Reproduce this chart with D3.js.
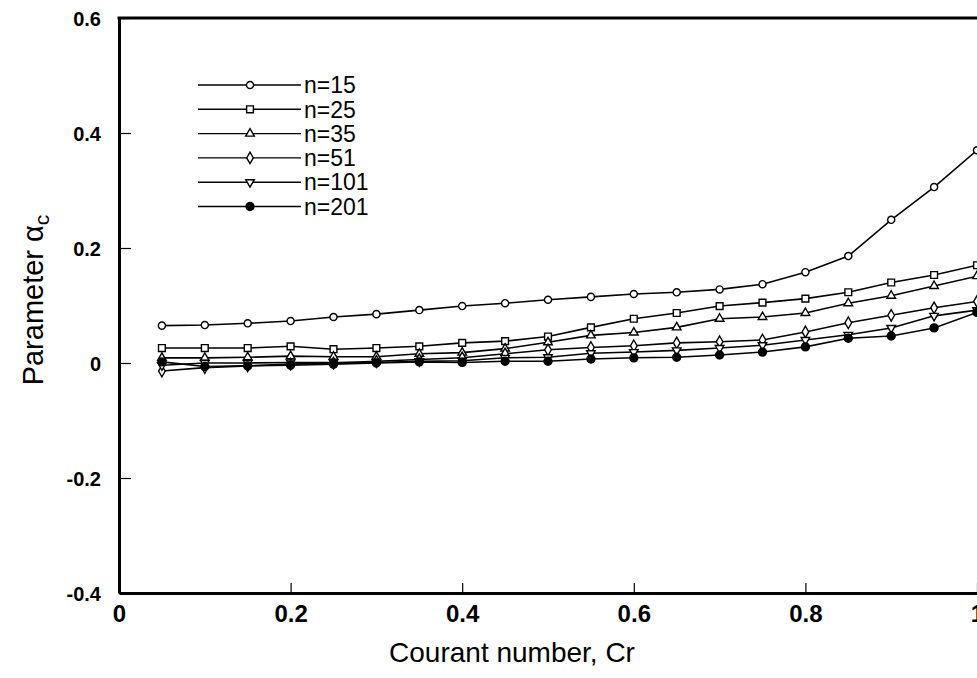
<!DOCTYPE html>
<html>
<head>
<meta charset="utf-8">
<script src="https://cdn.jsdelivr.net/npm/d3@7"></script>
<style>
  body { margin: 0; background: #fff; }
  text { font-family: "Liberation Sans", Arial, sans-serif; }
</style>
</head>
<body>
<div id="chart"></div>
<script>
const width = 977;
const height = 678;
const marginTop = 18;
const marginLeft = 119;
const marginBottom = 85;

// Courant numbers
const courant = [0.05, 0.1, 0.15, 0.2, 0.25, 0.3, 0.35, 0.4, 0.45, 0.5,
                 0.55, 0.6, 0.65, 0.7, 0.75, 0.8, 0.85, 0.9, 0.95, 1.0];

const n15  = [0.065, 0.066, 0.069, 0.073, 0.080, 0.085, 0.092, 0.099, 0.104, 0.110,
              0.115, 0.120, 0.123, 0.128, 0.137, 0.158, 0.186, 0.249, 0.306, 0.370];
const n25  = [0.026, 0.026, 0.026, 0.029, 0.024, 0.026, 0.029, 0.035, 0.038, 0.046,
              0.062, 0.077, 0.087, 0.099, 0.105, 0.112, 0.123, 0.140, 0.153, 0.170];
const n35  = [0.009, 0.009, 0.010, 0.012, 0.011, 0.011, 0.016, 0.018, 0.025, 0.036,
              0.048, 0.053, 0.062, 0.077, 0.080, 0.087, 0.104, 0.117, 0.134, 0.151];
const n51  = [-0.014, -0.008, -0.005, -0.002, 0.000, 0.003, 0.006, 0.009, 0.016, 0.023,
              0.027, 0.030, 0.035, 0.037, 0.040, 0.054, 0.070, 0.083, 0.096, 0.107];
const n101 = [-0.004, 0.000, 0.000, 0.001, 0.001, 0.001, 0.003, 0.004, 0.009, 0.010,
              0.017, 0.019, 0.022, 0.026, 0.031, 0.040, 0.049, 0.061, 0.082, 0.092];
const n201 = [0.002, -0.006, -0.005, -0.004, -0.002, 0.000, 0.002, 0.001, 0.003, 0.003,
              0.007, 0.009, 0.010, 0.014, 0.019, 0.028, 0.043, 0.047, 0.061, 0.088];

const seriesNames = ["n=15", "n=25", "n=35", "n=51", "n=101", "n=201"];
const seriesValues = [n15, n25, n35, n51, n101, n201];

const xTicks = [0, 0.2, 0.4, 0.6, 0.8, 1];
const yTicks = [-0.4, -0.2, 0, 0.2, 0.4, 0.6];

// marker style per series
const markers = [
    { type: d3.symbolCircle, size: 40, fill: "#fff", rotate: 0 },
    { type: d3.symbolSquare, size: 46, fill: "#fff", rotate: 0 },
    { type: d3.symbolTriangle, size: 32, fill: "#fff", rotate: 0 },
    { type: d3.symbolDiamond, size: 38, fill: "#fff", rotate: 0 },
    { type: d3.symbolTriangle, size: 32, fill: "#fff", rotate: 180 },
    { type: d3.symbolCircle, size: 50, fill: "#000", rotate: 0 }
];

const series = seriesNames.map((name, i) => ({
    name: name,
    marker: markers[i],
    points: courant.map((c, j) => ({ x: c, y: seriesValues[i][j] }))
}));

const svg = d3.select("#chart").append("svg")
    .attr("width", width)
    .attr("height", height);

const x = d3.scaleLinear()
    .domain([0, 1])
    .range([marginLeft, 977]);

const y = d3.scaleLinear()
    .domain([-0.4, 0.6])
    .range([593, marginTop]);

// lines
const line = d3.line()
    .x(d => x(d.x))
    .y(d => y(d.y));

const sg = svg.selectAll(".series")
    .data(series)
    .enter().append("g")
    .attr("class", "series");

sg.append("path")
    .attr("d", d => line(d.points))
    .attr("fill", "none")
    .attr("stroke", "#000")
    .attr("stroke-width", 1.6);

sg.each(function(s) {
    d3.select(this).selectAll("path.mark")
        .data(s.points)
        .enter().append("path")
        .attr("class", "mark")
        .attr("d", d3.symbol().type(s.marker.type).size(s.marker.size))
        .attr("transform", d => `translate(${x(d.x)},${y(d.y)}) rotate(${s.marker.rotate})`)
        .attr("fill", s.marker.fill)
        .attr("stroke", "#000")
        .attr("stroke-width", 1.4);
});

const fmt = d => d === 0 || d === 1 ? String(d) : d3.format(".1f")(d).replace("−", "-");

// axes, ticks pointing inward
const xAxis = svg.append("g")
    .attr("transform", `translate(0,${y(-0.4)})`)
    .call(d3.axisBottom(x).tickValues(xTicks).tickSizeInner(-10).tickSizeOuter(0)
        .tickPadding(12).tickFormat(fmt));

const yAxis = svg.append("g")
    .attr("transform", `translate(${marginLeft},0)`)
    .call(d3.axisLeft(y).tickValues(yTicks).tickSizeInner(-12).tickSizeOuter(0)
        .tickPadding(18).tickFormat(fmt));

[xAxis, yAxis].forEach(a => {
    a.select(".domain").attr("stroke", "#000").attr("stroke-width", 3);
    a.selectAll(".tick line").attr("stroke", "#000").attr("stroke-width", 1.2);
    a.selectAll(".tick text")
        .attr("fill", "#000")
        .attr("font-weight", "bold")
        .attr("font-family", "Liberation Sans, Arial, sans-serif");
});
xAxis.attr("font-size", 24);
yAxis.attr("font-size", 20);
yAxis.selectAll(".tick text").attr("dy", "0.36em");

// top border
svg.append("line")
    .attr("x1", marginLeft - 1.5)
    .attr("x2", 977)
    .attr("y1", y(0.6))
    .attr("y2", y(0.6))
    .attr("stroke", "#000")
    .attr("stroke-width", 3);

// legend
const legend = svg.append("g")
    .attr("class", "legend");

const legendRows = legend.selectAll("g")
    .data(series)
    .enter().append("g")
    .attr("transform", (d, i) => `translate(198,${85 + i * 24.3})`);

legendRows.append("line")
    .attr("x1", 0)
    .attr("x2", 103)
    .attr("stroke", "#000")
    .attr("stroke-width", 1.4);

legendRows.append("path")
    .attr("d", d => d3.symbol().type(d.marker.type).size(d.marker.size)())
    .attr("transform", d => `translate(52,0) rotate(${d.marker.rotate})`)
    .attr("fill", d => d.marker.fill)
    .attr("stroke", "#000")
    .attr("stroke-width", 1.4);

legendRows.append("text")
    .attr("x", 106)
    .attr("dy", "0.36em")
    .attr("font-size", 23)
    .text(d => d.name);

// axis titles
svg.append("text")
    .attr("x", 512)
    .attr("y", 662)
    .attr("font-size", 28)
    .attr("text-anchor", "middle")
    .text("Courant number, Cr");

const ylabel = svg.append("text")
    .attr("transform", `translate(43,300) rotate(-90)`)
    .attr("font-size", 29)
    .attr("text-anchor", "middle");
ylabel.append("tspan").text("Parameter α");
ylabel.append("tspan").attr("dy", 6).attr("font-size", 21).text("c");
</script>
</body>
</html>
